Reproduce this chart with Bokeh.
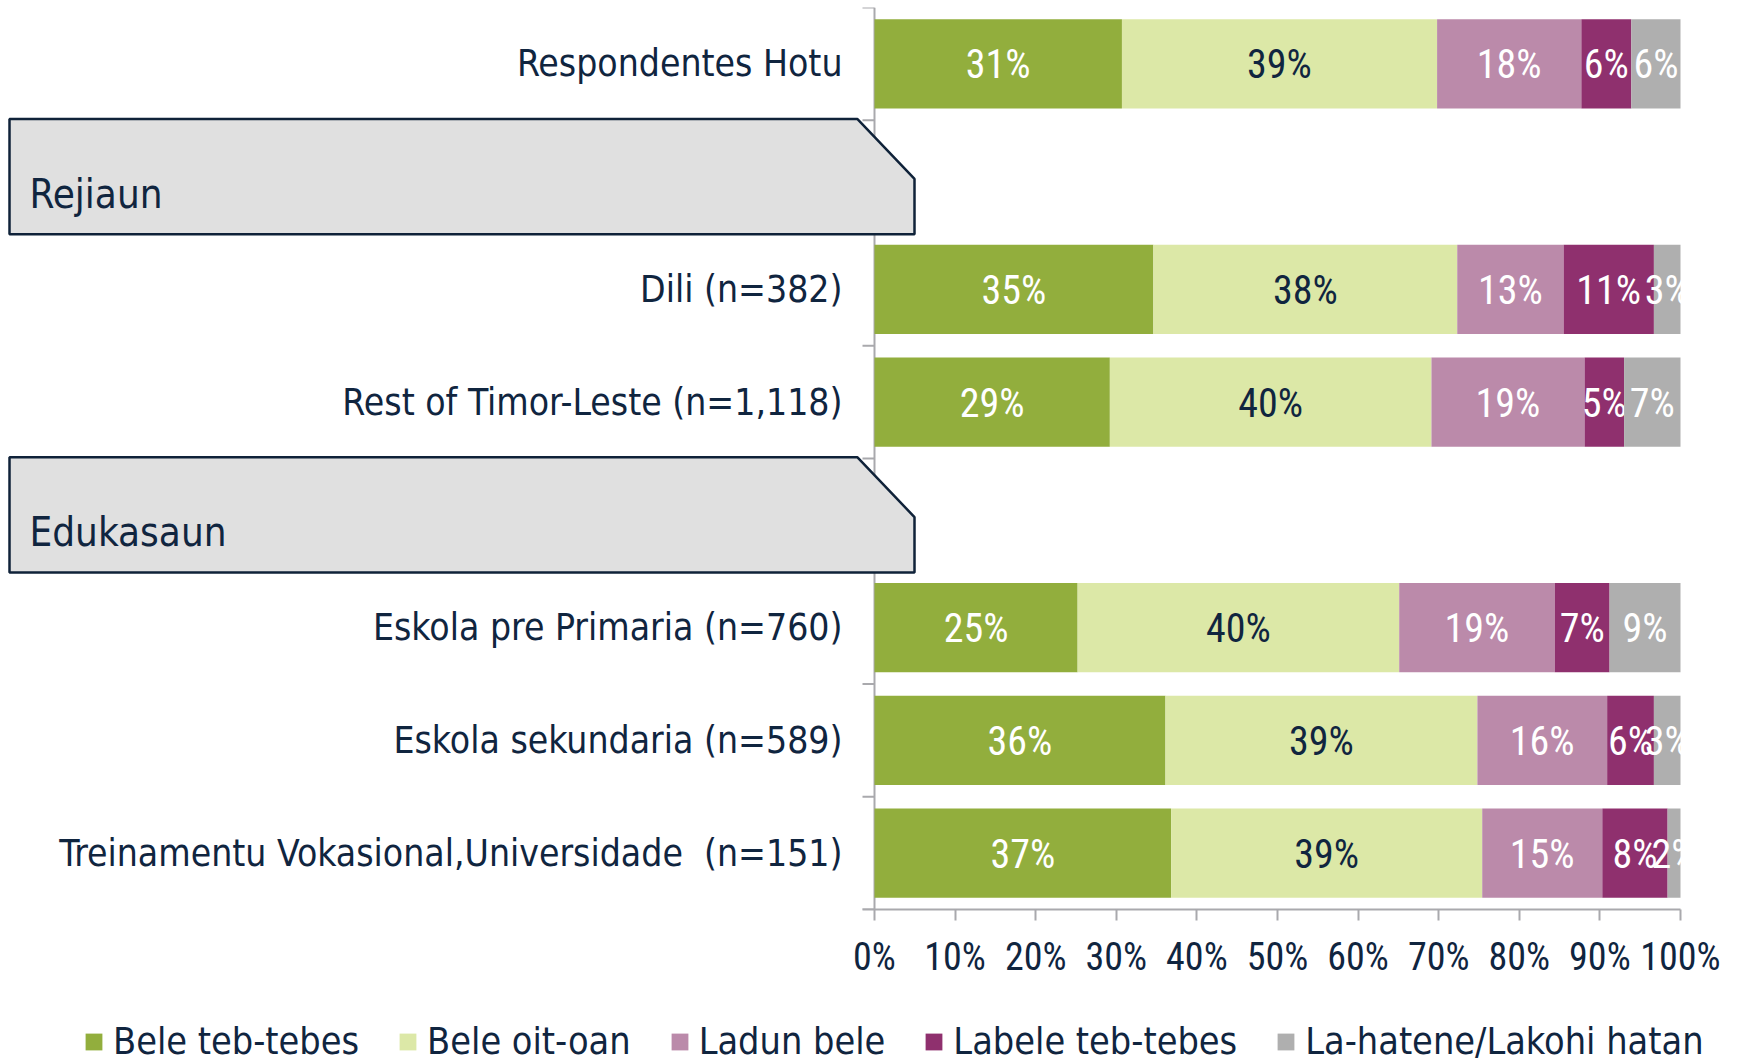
from bokeh.plotting import figure
from bokeh.layouts import column
from bokeh.models import Range1d, ColumnDataSource, Legend, LegendItem, FixedTicker
from bokeh.core.properties import value
from bokeh.embed import file_html
from bokeh.resources import INLINE

# ---------------- data ----------------
categories = [
    "Respondentes Hotu",
    "Rejiaun",
    "Dili (n=382)",
    "Rest of Timor-Leste (n=1,118)",
    "Edukasaun",
    "Eskola pre Primaria (n=760)",
    "Eskola sekundaria (n=589)",
    "Treinamentu Vokasional,Universidade\u00a0 (n=151)",
]
headers = ["Rejiaun", "Edukasaun"]
rows = [
    "Respondentes Hotu",
    "Dili (n=382)",
    "Rest of Timor-Leste (n=1,118)",
    "Eskola pre Primaria (n=760)",
    "Eskola sekundaria (n=589)",
    "Treinamentu Vokasional,Universidade\u00a0 (n=151)",
]
series_names = ["Bele teb-tebes", "Bele oit-oan", "Ladun bele",
                "Labele teb-tebes", "La-hatene/Lakohi hatan"]
bele_teb_tebes = [30.7, 34.6, 29.2, 25.2, 36.1, 36.8]
bele_oit_oan = [39.1, 37.7, 39.9, 39.9, 38.7, 38.6]
ladun_bele = [17.9, 13.2, 19.0, 19.3, 16.1, 14.9]
labele_teb_tebes = [6.2, 11.2, 4.9, 6.8, 5.8, 8.1]
la_hatene = [6.1, 3.3, 7.0, 8.8, 3.3, 1.6]
x_ticks = [0, 10, 20, 30, 40, 50, 60, 70, 80, 90, 100]
tick_labels = ["0%", "10%", "20%", "30%", "40%", "50%", "60%", "70%", "80%", "90%", "100%"]

# ---------------- styles ----------------
colors = ["#92AE3D", "#DCE8A7", "#BB8AAA", "#8F306E", "#AFAFAF"]
label_colors = ["white", "#10253F", "white", "white", "white"]
NAVY = "#10253F"
GRAY = "#A9A9AD"
CAT_FONT = "DejaVu Sans Condensed"
NUM_FONT = "Roboto Condensed"

W = 1741
H_MAIN = 1000
H_LEG = 63
PX_PER_UNIT = 8.06
ZERO_PX = 874
FRAME_TOP = 7
FRAME_BOTTOM = 909
x_start = -ZERO_PX / PX_PER_UNIT
x_end = (W - ZERO_PX) / PX_PER_UNIT
n = len(categories)

p = figure(width=W, height=H_MAIN,
           x_range=Range1d(x_start, x_end),
           y_range=Range1d(n - 0.5, -0.5),
           output_backend="svg", toolbar_location=None,
           y_axis_location=None,
           min_border_left=0, min_border_right=0,
           min_border_top=FRAME_TOP, min_border_bottom=H_MAIN - FRAME_BOTTOM)
p.outline_line_color = None
p.grid.visible = False

# x axis
ax = p.xaxis[0]
ax.ticker = FixedTicker(ticks=x_ticks)
ax.major_label_overrides = {t: l for t, l in zip(x_ticks, tick_labels)}
ax.bounds = (-12 / PX_PER_UNIT, 100)
ax.minor_tick_line_color = None
ax.major_tick_in = 0
ax.major_tick_out = 11
ax.axis_line_color = GRAY
ax.axis_line_width = 2
ax.major_tick_line_color = GRAY
ax.major_tick_line_width = 2
ax.major_label_text_font = NUM_FONT
ax.major_label_text_font_size = "38px"
ax.major_label_text_color = NAVY
ax.major_label_standoff = 14

# vertical axis line at 0 with ticks at category boundaries
tick_len = 12 / PX_PER_UNIT
bounds_y = [i - 0.5 for i in range(n + 1)]
p.segment(x0=[0], y0=[-0.5], x1=[0], y1=[n - 0.5], line_color=GRAY, line_width=2)
p.segment(x0=[-tick_len] * len(bounds_y), y0=bounds_y, x1=[0] * len(bounds_y), y1=bounds_y,
          line_color=GRAY, line_width=2)

# stacked bars
series = [bele_teb_tebes, bele_oit_oan, ladun_bele, labele_teb_tebes, la_hatene]
ys = [categories.index(r) for r in rows]
left = [0.0] * len(rows)
for i, vals in enumerate(series):
    right = [l + v for l, v in zip(left, vals)]
    src = ColumnDataSource(dict(y=ys, left=left, right=right,
                                mid=[(l + r) / 2 for l, r in zip(left, right)],
                                lbl=[f"{round(v)}%" for v in vals]))
    p.hbar(y="y", left="left", right="right", height=0.79, source=src,
           fill_color=colors[i], line_color=None)
    p.text(x="mid", y="y", text="lbl", source=src, text_align="center",
           text_baseline="middle", text_color=label_colors[i],
           text_font=value(NUM_FONT), text_font_size="40px", y_offset=1)
    left = right

# category labels
p.text(x=[0] * len(rows), y=ys, text=rows, x_offset=-32, text_align="right",
       text_baseline="middle", text_color=NAVY, text_font=value(CAT_FONT),
       text_font_size="37px")

# header boxes
box_left = (9 - ZERO_PX) / PX_PER_UNIT
box_right = (914 - ZERO_PX) / PX_PER_UNIT
box_corner = (857 - ZERO_PX) / PX_PER_UNIT
hy = [categories.index(h) for h in headers]
xs = [[box_left, box_corner, box_right, box_right, box_left] for _ in hy]
ysb = [[y - 0.51, y - 0.51, y + 0.02, y + 0.51, y + 0.51] for y in hy]
p.patches(xs, ysb, fill_color="#E0E0E0", line_color="#0F2239", line_width=2.5)
p.text(x=[box_left] * len(hy), y=hy, text=headers, x_offset=20, y_offset=17,
       text_align="left", text_baseline="middle", text_color=NAVY,
       text_font=value(CAT_FONT), text_font_size="40px")

# legend in its own strip (swatch renderers hold the series colours, off-range)
pl = figure(width=W, height=H_LEG, x_range=Range1d(0, 1), y_range=Range1d(0, 1),
            output_backend="svg", toolbar_location=None,
            x_axis_location=None, y_axis_location=None,
            min_border_left=0, min_border_right=0, min_border_top=0, min_border_bottom=0)
pl.outline_line_color = None
pl.grid.visible = False
leg_renderers = [pl.hbar(y=[-10], left=[0], right=[1], height=1, fill_color=c, line_color=None)
                 for c in colors]
legend = Legend(items=[LegendItem(label=s, renderers=[r]) for s, r in zip(series_names, leg_renderers)],
                orientation="horizontal", location=(83, 0),
                glyph_width=21, glyph_height=21, label_standoff=9, spacing=38,
                label_height=21, padding=0, margin=0, border_line_color=None,
                background_fill_alpha=0,
                label_text_font=CAT_FONT, label_text_font_size="37.5px",
                label_text_color=NAVY)
pl.add_layout(legend)

layout = column(p, pl, spacing=0)
open("out.html", "w").write(file_html(layout, INLINE))
